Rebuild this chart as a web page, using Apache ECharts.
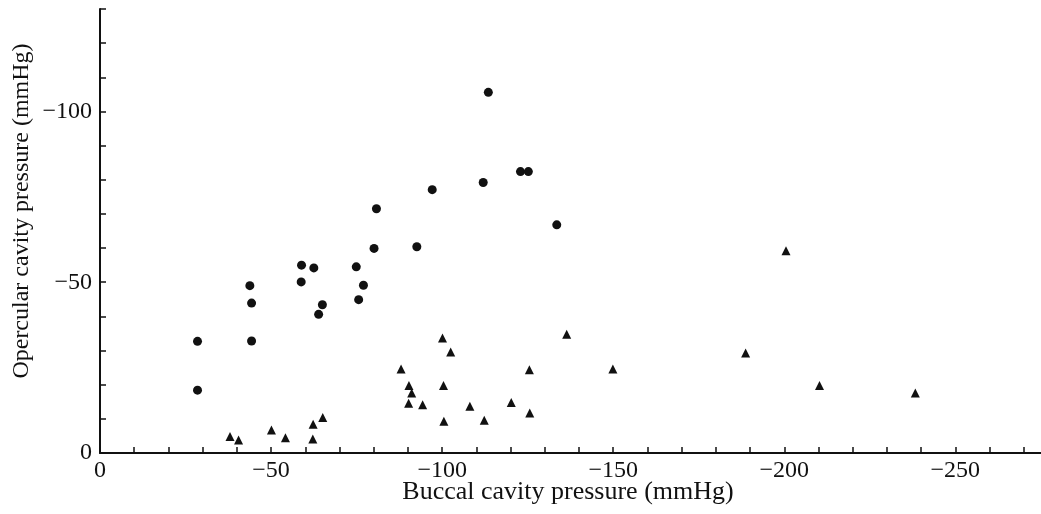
<!DOCTYPE html>
<html>
<head>
<meta charset="utf-8">
<script src="https://cdn.jsdelivr.net/npm/echarts@6/dist/echarts.min.js"></script>
<style>
  html, body { margin: 0; padding: 0; background: #fff; }
  #chart { width: 1041px; height: 514px; }
</style>
</head>
<body>
<div id="chart"></div>
<script>
// circles: [buccal, opercular] (mmHg)
const circleBuccal = [-28.5, -28.5, -43.8, -44.3, -44.3, -58.9, -58.8, -62.5, -63.9, -65.0, -74.9,
  -75.6, -77.0, -80.8, -80.1, -92.6, -97.1, -112.0, -113.5, -122.9, -125.2, -133.5];
const circleOpercular = [-32.7, -18.4, -49.0, -43.9, -32.8, -55.0, -50.1, -54.2, -40.6, -43.4, -54.5,
  -44.9, -49.1, -71.5, -59.9, -60.4, -77.1, -79.2, -105.6, -82.4, -82.4, -66.8];

// triangles
const triBuccal = [-38.0, -40.5, -50.1, -54.2, -62.3, -65.1, -62.2, -100.1, -102.5, -88.0, -90.3,
  -91.1, -90.2, -94.3, -100.4, -100.5, -108.1, -112.3, -120.2, -125.5, -125.6, -136.4, -149.9,
  -200.5, -188.7, -210.3, -238.3];
const triOpercular = [-4.8, -3.8, -6.7, -4.5, -8.4, -10.4, -4.1, -33.7, -29.6, -24.6, -19.8,
  -17.6, -14.6, -14.1, -19.8, -9.3, -13.7, -9.6, -14.8, -24.4, -11.7, -34.8, -24.6,
  -59.2, -29.3, -19.8, -17.6];

const xLabelStep = 50;
const yLabelStep = 50;

const pair = (xs, ys) => xs.map((x, i) => [x, ys[i]]);
const fmt = step => v => (Math.round(v) % step === 0 ? (v < 0 ? '\u2212' + Math.abs(v) : String(v)) : '');

const chart = echarts.init(document.getElementById('chart'));
const ink = '#111';
const font = 'Liberation Serif';

chart.setOption({
  animation: false,
  grid: { left: 100, right: -17, top: 9, bottom: 61, outerBoundsMode: 'none', containLabel: false },
  xAxis: {
    type: 'value',
    inverse: true,
    min: -280, max: 0, interval: 10,
    name: 'Buccal cavity pressure (mmHg)',
    nameLocation: 'middle',
    nameGap: 26,
    nameMoveOverlap: false,
    nameTextStyle: { color: ink, fontFamily: font, fontSize: 26, padding: [0, 22, 0, 0] },
    axisLine: { lineStyle: { color: ink, width: 2 } },
    axisTick: { inside: true, length: 6, lineStyle: { color: ink, width: 1.5 } },
    axisLabel: { formatter: fmt(xLabelStep), color: ink, fontFamily: font, fontSize: 24, margin: 6 },
    splitLine: { show: false }
  },
  yAxis: {
    type: 'value',
    inverse: true,
    min: -130, max: 0, interval: 10,
    name: 'Opercular cavity pressure (mmHg)',
    nameLocation: 'middle',
    nameGap: 66,
    nameMoveOverlap: false,
    nameTextStyle: { color: ink, fontFamily: font, fontSize: 24, padding: [0, 0, 0, 40] },
    axisLine: { lineStyle: { color: ink, width: 2 } },
    axisTick: { inside: true, length: 6, lineStyle: { color: ink, width: 1.5 } },
    axisLabel: { formatter: fmt(yLabelStep), color: ink, fontFamily: font, fontSize: 24, margin: 8 },
    splitLine: { show: false }
  },
  series: [
    {
      type: 'scatter',
      symbol: 'circle',
      symbolSize: 9,
      itemStyle: { color: ink, opacity: 1 },
      data: pair(circleBuccal, circleOpercular)
    },
    {
      type: 'scatter',
      symbol: 'triangle',
      symbolSize: 9,
      itemStyle: { color: ink, opacity: 1 },
      data: pair(triBuccal, triOpercular)
    }
  ]
});
</script>
</body>
</html>
